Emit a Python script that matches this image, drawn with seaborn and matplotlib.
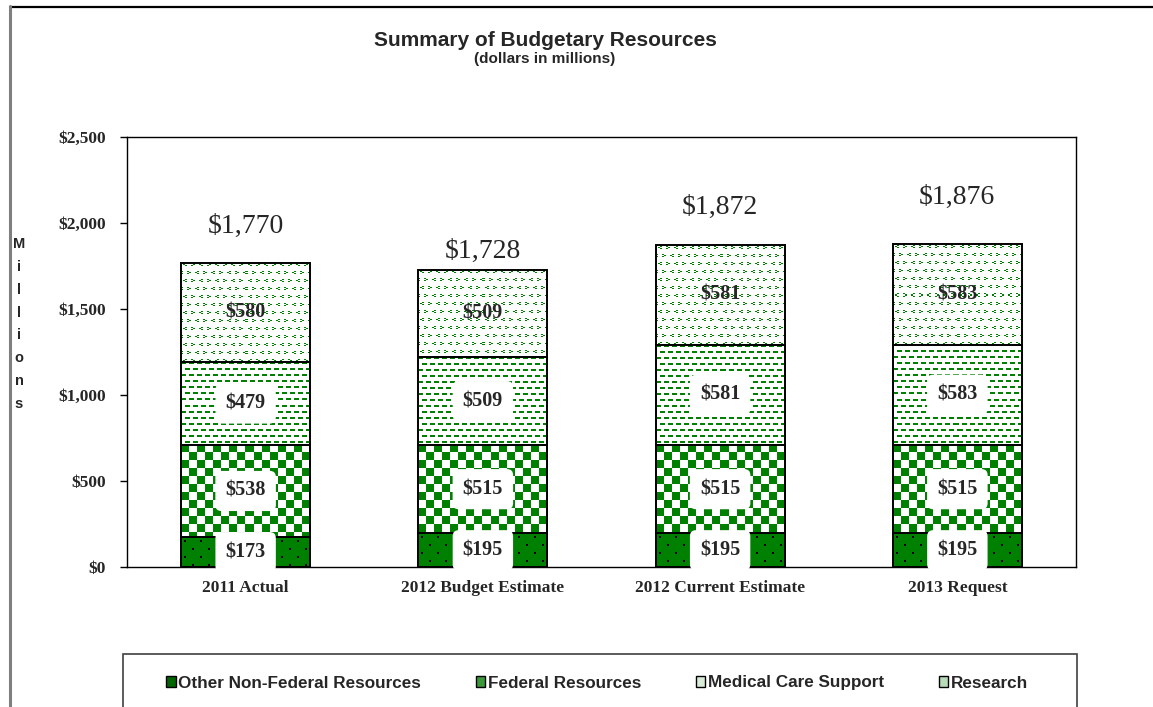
import numpy as np
import pandas as pd
import matplotlib
matplotlib.use('Agg')
import matplotlib.pyplot as plt
import seaborn as sns
from matplotlib.patches import Patch, Rectangle
from matplotlib.lines import Line2D

# Data (dollars in millions)
categories = ['2011 Actual', '2012 Budget Estimate', '2012 Current Estimate', '2013 Request']
other_non_federal = [173, 195, 195, 195]
federal = [538, 515, 515, 515]
medical_care = [479, 509, 581, 583]
research = [580, 509, 581, 583]
totals = [1770, 1728, 1872, 1876]
series_names = ['Other Non-Federal Resources', 'Federal Resources', 'Medical Care Support', 'Research']

# where the total labels sit (data units)
total_label_y = [1983, 1835, 2093, 2151]

GREEN = np.array([0, 128, 0]) / 255.0

sns.set_style('white')
plt.rcParams['font.family'] = ['Liberation Serif', 'DejaVu Serif']


def make_tile(kind):
    # small repeating pixel tiles that mimic the Excel fill patterns
    if kind == 'dots':
        t = np.zeros((16, 16), bool)
        t[3:5, 3:5] = True
        t[11:13, 11:13] = True
    elif kind == 'checker':
        t = np.zeros((16, 16), bool)
        t[:8, :8] = True
        t[8:, 8:] = True
    elif kind == 'dashes':
        t = np.zeros((12, 8), bool)
        t[0:2, 0:5] = True
        t[6:8, 4:8] = True
        t[6:8, 0] = True
    else:  # small chevrons, one pixel tall, two wide per step
        t = np.zeros((16, 16), bool)
        left = [(0, 1), (1, 0), (2, 1)]
        right = [(0, 0), (1, 1), (2, 0)]
        for r0, c0, pts in [(1, 2, left), (1, 10, right), (9, 6, right), (9, 14, left)]:
            for dr, dc in pts:
                r = (r0 + dr) % 16
                c = (c0 + 2 * dc) % 16
                t[r, c] = True
                t[r, (c + 1) % 16] = True
    return t


def pattern_image(kind, h, w):
    tile = make_tile(kind)
    reps = (h // tile.shape[0] + 1, w // tile.shape[1] + 1)
    mask = np.tile(tile, reps)[:h, :w]
    img = np.ones((h, w, 3))
    if kind == 'dots':
        img[:] = GREEN
        img[mask] = 0.0
    else:
        img[mask] = GREEN
    return img


fig = plt.figure(figsize=(11.53, 7.07), dpi=100)
ax = fig.add_axes([127 / 1153, (707 - 567) / 707, (1076 - 127) / 1153, (567 - 137) / 707])

layers = [(other_non_federal, 'dots', True),
          (federal, 'checker', True),
          (medical_care, 'dashes', True),
          (research, 'chevrons', False)]

bottom = np.zeros(len(categories))
bar_layers = []
for vals, kind, boxed in layers:
    sns.barplot(x=categories, y=vals, bottom=bottom, width=0.544, color='white',
                edgecolor='black', linewidth=1.4, errorbar=None, ax=ax, zorder=2)
    bar_layers.append((list(ax.containers[-1]), vals, kind, boxed, bottom.copy()))
    bottom = bottom + np.array(vals)

ax.set_xlim(-0.5, len(categories) - 0.5)
ax.set_ylim(0, 2500)

# fill every segment with its pixel pattern, clipped to the bar
for patches, vals, kind, boxed, base in bar_layers:
    for p, v, b in zip(patches, vals, base):
        x0, y0 = p.get_x(), p.get_y()
        x1, y1 = x0 + p.get_width(), y0 + p.get_height()
        (px0, py0), (px1, py1) = ax.transData.transform([(x0, y0), (x1, y1)])
        w = max(int(round(px1 - px0)), 1)
        h = max(int(round(py1 - py0)), 1)
        im = ax.imshow(pattern_image(kind, h, w), extent=[x0, x1, y0, y1], origin='upper',
                       interpolation='nearest', aspect='auto', zorder=1.5)
        im.set_clip_path(p)
        p.set_facecolor('none')
        t = ax.text(p.get_x() + p.get_width() / 2, b + v / 2, f'${v:,}', ha='center', va='center',
                    fontsize=14.5, fontweight='bold', zorder=3,
                    bbox=dict(boxstyle='round,pad=0.5,rounding_size=0.3', fc='white', ec='none') if boxed else None)
        t.set_clip_path(p)

ax.set_xlim(-0.5, len(categories) - 0.5)
ax.set_ylim(0, 2500)

for i, (tot, ly) in enumerate(zip(totals, total_label_y)):
    ax.text(i, ly, f'${tot:,}', ha='center', va='center', fontsize=20, zorder=3)

ax.set_yticks([0, 500, 1000, 1500, 2000, 2500])
ax.set_yticklabels([f'${v:,}' for v in [0, 500, 1000, 1500, 2000, 2500]], fontweight='bold', fontsize=12.5)
ax.set_xticks(range(len(categories)))
ax.set_xticklabels(categories, fontweight='bold', fontsize=12.5)
ax.set_xticks(np.arange(-0.5, len(categories)), minor=True)
ax.tick_params(axis='x', which='major', length=0, pad=9)
ax.tick_params(axis='x', which='minor', length=5, width=1, color='black', direction='out')
ax.tick_params(axis='y', length=5, width=1, color='black', direction='out', pad=10, left=True)
ax.set_xlabel('')
ax.set_ylabel('')
for s in ax.spines.values():
    s.set_visible(True)
    s.set_color('black')
    s.set_linewidth(1.0)

sans = ['Liberation Sans', 'DejaVu Sans']
fig.text(545 / 1153, 1 - 41 / 707, 'Summary of Budgetary Resources', ha='center', va='center',
         fontsize=15, fontweight='bold', family=sans)
fig.text(545 / 1153, 1 - 59 / 707, '(dollars in millions)', ha='center', va='center',
         fontsize=11, fontweight='bold', family=sans)
fig.text(19 / 1153, 1 - 324 / 707, '\n'.join('Millions'), ha='center', va='center',
         fontsize=10.5, fontweight='bold', family=sans, linespacing=1.8)

# outer frame lines of the original exhibit
fig.add_artist(Line2D([10 / 1153, 1], [1 - 6.5 / 707, 1 - 6.5 / 707], transform=fig.transFigure,
                      color='black', lw=1.6))
fig.add_artist(Line2D([10.5 / 1153, 10.5 / 1153], [0, 1 - 6 / 707], transform=fig.transFigure,
                      color='#7f7f7f', lw=2.2))

# legend box
fig.add_artist(Rectangle((123 / 1153, -0.05), (1077 - 123) / 1153, (707 - 654) / 707 + 0.05,
                         transform=fig.transFigure, fill=False, edgecolor='#404040', lw=1.2))
handles = [Patch(facecolor='#006400', edgecolor='black', lw=1),
           Patch(facecolor='#3a9a3a', edgecolor='black', lw=1),
           Patch(facecolor='#d8ecd8', edgecolor='black', lw=1),
           Patch(facecolor='#b8dcb8', edgecolor='black', lw=1)]
fig.legend(handles, series_names, loc='center', bbox_to_anchor=(597 / 1153, 1 - 683 / 707),
           ncol=4, frameon=False, handlelength=0.55, handleheight=0.55, handletextpad=0.15,
           columnspacing=3.2, prop={'family': sans, 'weight': 'bold', 'size': 12.3})

fig.savefig('out.png', dpi=100)
